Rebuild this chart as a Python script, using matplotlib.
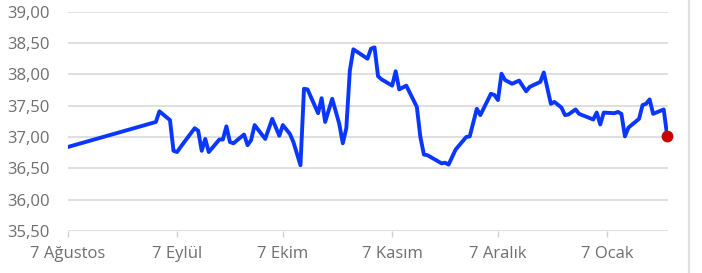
import matplotlib
matplotlib.use("Agg")
import matplotlib.pyplot as plt
from matplotlib.lines import Line2D
from matplotlib.ticker import FuncFormatter
import pandas as pd

# series
dates = [
    "2024-08-07", "2024-09-01", "2024-09-02", "2024-09-05", "2024-09-06",
    "2024-09-07", "2024-09-08", "2024-09-12", "2024-09-13", "2024-09-14",
    "2024-09-15", "2024-09-16", "2024-09-19", "2024-09-20", "2024-09-21",
    "2024-09-22", "2024-09-23", "2024-09-26", "2024-09-27", "2024-09-28",
    "2024-09-29", "2024-10-02", "2024-10-04", "2024-10-06", "2024-10-07",
    "2024-10-09", "2024-10-10", "2024-10-12", "2024-10-13", "2024-10-14",
    "2024-10-17", "2024-10-18", "2024-10-19", "2024-10-21", "2024-10-23",
    "2024-10-24", "2024-10-25", "2024-10-26", "2024-10-27", "2024-10-31",
    "2024-11-01", "2024-11-02", "2024-11-03", "2024-11-04", "2024-11-07",
    "2024-11-08", "2024-11-09", "2024-11-11", "2024-11-14", "2024-11-15",
    "2024-11-16", "2024-11-17", "2024-11-21", "2024-11-22", "2024-11-23",
    "2024-11-25", "2024-11-28", "2024-11-29", "2024-12-01", "2024-12-02",
    "2024-12-05", "2024-12-06", "2024-12-07", "2024-12-08", "2024-12-09",
    "2024-12-11", "2024-12-13", "2024-12-15", "2024-12-16", "2024-12-19",
    "2024-12-20", "2024-12-22", "2024-12-23", "2024-12-25", "2024-12-26",
    "2024-12-27", "2024-12-29", "2024-12-30", "2025-01-03", "2025-01-04",
    "2025-01-05", "2025-01-06", "2025-01-09", "2025-01-10", "2025-01-11",
    "2025-01-12", "2025-01-13", "2025-01-16", "2025-01-17", "2025-01-18",
    "2025-01-19", "2025-01-20", "2025-01-23", "2025-01-24",
]
values = [
    36.84, 37.24, 37.41, 37.27, 36.78,
    36.76, 36.84, 37.14, 37.10, 36.78,
    36.97, 36.76, 36.96, 36.96, 37.17,
    36.92, 36.90, 37.04, 36.87, 36.95,
    37.19, 36.97, 37.29, 37.02, 37.19,
    37.05, 36.92, 36.55, 37.77, 37.76,
    37.38, 37.62, 37.24, 37.61, 37.21,
    36.90, 37.14, 38.06, 38.40, 38.25,
    38.41, 38.43, 37.97, 37.92, 37.82,
    38.05, 37.76, 37.82, 37.48, 37.00,
    36.72, 36.71, 36.58, 36.59, 36.56,
    36.80, 37.00, 37.01, 37.45, 37.35,
    37.69, 37.67, 37.59, 38.01, 37.91,
    37.85, 37.90, 37.73, 37.80, 37.88,
    38.03, 37.53, 37.56, 37.47, 37.35,
    37.36, 37.44, 37.37, 37.28, 37.39,
    37.20, 37.39, 37.38, 37.40, 37.37,
    37.01, 37.15, 37.29, 37.51, 37.53,
    37.60, 37.37, 37.44, 37.01,
]

tick_dates = ["2024-08-07", "2024-09-07", "2024-10-07",
              "2024-11-07", "2024-12-07", "2025-01-07"]
tick_labels = ["7 Ağustos", "7 Eylül", "7 Ekim", "7 Kasım", "7 Aralık", "7 Ocak"]
y_ticks = [35.5, 36.0, 36.5, 37.0, 37.5, 38.0, 38.5, 39.0]

plt.rcParams["font.family"] = ["Open Sans", "DejaVu Sans"]

x = pd.to_datetime(dates)

fig = plt.figure(figsize=(7.02, 2.73), dpi=100)
ax = fig.add_axes([67.7 / 702, 1 - 231 / 273, (668.3 - 67.7) / 702, (231 - 11.7) / 273])

ax.plot(x, values, color="#0a37ff", linewidth=2.8, solid_joinstyle="round",
        solid_capstyle="round", zorder=3)
# last value marked in red
ax.plot(x[-1:], values[-1:], "o", color="#c80000", markersize=7.5, zorder=4,
        clip_on=False)

ax.set_xlim(pd.Timestamp("2024-08-07"), pd.Timestamp("2024-08-07") + pd.Timedelta(days=170.3))
ax.set_ylim(35.5, 39.0)
ax.set_yticks(y_ticks)
ax.yaxis.set_major_formatter(FuncFormatter(lambda v, p: f"{v:.2f}".replace(".", ",")))
ax.set_xticks(pd.to_datetime(tick_dates))
ax.set_xticklabels(tick_labels)

for s in ax.spines.values():
    s.set_visible(False)
ax.grid(axis="y", color="#dcdcdc", linewidth=1.3)
ax.grid(axis="x", visible=False)
ax.tick_params(axis="y", length=0, pad=13, labelsize=12, labelcolor="#6e6e6e")
ax.tick_params(axis="x", length=4, width=1, color="#d0d0d0", pad=7,
               labelsize=12, labelcolor="#6e6e6e")

# gray frame line on the right side
fig.add_artist(Line2D([689.3 / 702, 689.3 / 702], [0, 1], color="#e0e0e0",
                      linewidth=1.6, transform=fig.transFigure))

fig.savefig("out.png", dpi=100)
